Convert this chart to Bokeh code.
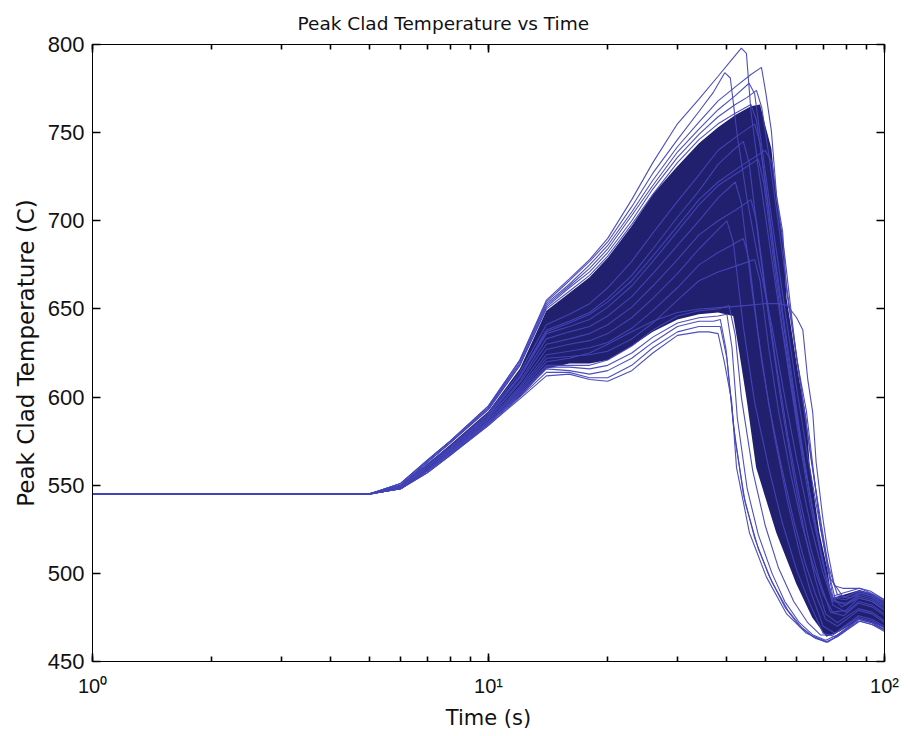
from bokeh.plotting import figure
from bokeh.models import Range1d, FixedTicker, LogTicker, LogAxis, LinearAxis
from bokeh.embed import file_html
from bokeh.resources import INLINE

# ---------------- data ----------------
# common flat start of every run
base_t = [1, 2, 3, 4]
base_T = [545, 545, 545, 545]

# heat-up phase: shared time grid, temperatures per run
rise_t = [5, 6, 7, 8, 10, 12, 14, 16, 18, 20, 23, 26, 30, 34]
rise_T = [
    [545, 551, 564, 575, 595, 621, 655, 667, 678, 690, 712, 733, 755, 769],  # A
    [545, 551, 564, 575, 595, 621, 654, 666, 677, 688, 708, 727, 746, 762],  # C
    [545, 551, 564, 575, 594, 620, 653, 664, 675, 686, 705, 723, 742, 756],  # B
    [545, 550, 563, 574, 594, 619, 652, 663, 673, 684, 703, 720, 739, 752],  # D
    [545, 550, 563, 574, 593, 618, 651, 662, 671, 682, 700, 718, 736, 749],  # E
    [545, 550, 563, 574, 593, 618, 650, 660, 669, 680, 698, 715, 733, 746],  # F
    [545, 549, 561, 571, 590, 612, 637, 642, 647, 654, 666, 680, 697, 712],  # U
    [545, 550, 562, 572, 591, 614, 641, 647, 653, 662, 677, 693, 711, 726],  # G
    [545, 549, 561, 571, 590, 612, 638, 643, 648, 656, 669, 684, 702, 717],  # H
    [545, 549, 561, 571, 589, 611, 636, 640, 644, 651, 663, 677, 694, 709],  # I
    [545, 549, 560, 570, 588, 609, 633, 637, 640, 646, 657, 670, 686, 700],  # J
    [545, 549, 560, 570, 588, 608, 630, 633, 636, 641, 651, 663, 678, 692],  # K
    [545, 549, 559, 569, 587, 606, 627, 630, 632, 636, 645, 656, 670, 684],  # L
    [545, 549, 559, 569, 586, 605, 624, 626, 628, 631, 639, 649, 662, 675],  # M
    [545, 548, 558, 568, 586, 604, 622, 623, 624, 626, 633, 642, 655, 666],  # N
    [545, 548, 558, 568, 585, 603, 620, 622, 625, 630, 637, 643, 648, 650],  # O
    [545, 548, 558, 568, 585, 602, 618, 618, 618, 621, 629, 638, 646, 649],  # T
    [545, 548, 558, 568, 585, 601, 617, 617, 616, 618, 625, 634, 642, 645],  # P
    [545, 548, 557, 567, 585, 601, 616, 615, 613, 615, 622, 631, 640, 643],  # Q
    [545, 548, 557, 567, 584, 600, 614, 614, 611, 611, 618, 628, 637, 640],  # S
    [545, 548, 557, 567, 584, 599, 612, 613, 610, 609, 615, 625, 635, 637],  # R
]

# peak, quench and late phase: own time points per run
fall_t = [
    [38, 41, 43.5, 44.8, 46, 48, 51, 55, 60, 65, 70, 74, 80, 86, 93, 100],
    [37, 39.5, 40.8, 42.5, 45, 48, 52, 56, 60, 65, 70, 74, 80, 86, 93, 100],
    [38, 42, 46, 48.9, 50.2, 51.8, 53.4, 55.3, 56.6, 60, 63.5, 66, 69, 72, 74, 79, 86.5, 92, 100],
    [38, 42, 45.5, 47, 49, 52, 56, 60, 64, 68, 72, 76, 82, 87, 93, 100],
    [38, 42, 45, 47.5, 49, 51, 54, 57, 61, 65, 69, 73, 79, 86, 93, 100],
    [38, 42, 46, 47.5, 50, 53, 57, 61, 65, 69, 73, 78, 86, 93, 100],
    [38, 44, 50, 52, 54, 56, 58, 60, 63, 66, 69, 72, 75, 80, 86.5, 93, 100],
    [38, 43, 47, 48.5, 51, 54, 58, 62, 66, 70, 74, 80, 86, 93, 100],
    [38, 41, 44, 45.5, 48, 51, 55, 59, 63, 67, 71, 76, 86, 93, 100],
    [38, 43, 48, 49.5, 52, 55, 59, 63, 67, 71, 74, 80, 86, 93, 100],
    [38, 42, 43.5, 46, 49, 53, 57, 61, 65, 70, 75, 86, 93, 100],
    [38, 42, 46, 47.5, 50, 53, 57, 61, 65, 69, 73, 79, 86, 93, 100],
    [38, 40, 41.5, 44, 47, 51, 55, 60, 65, 70, 75, 86, 93, 100],
    [38, 41, 44, 45.5, 48, 51, 55, 59, 63, 67, 71, 76, 86, 93, 100],
    [38, 43, 47, 48.5, 51, 54, 58, 62, 66, 70, 74, 80, 86, 93, 100],
    [40, 45, 50, 54, 56.8, 60, 62.2, 64, 65.9, 67.2, 69.8, 71.8, 74.7, 78.5, 86.5, 92, 100],
    [38, 40.5, 42, 43.5, 46.5, 50, 54, 59, 64, 69, 74, 86, 93, 100],
    [38, 40, 41.2, 42.5, 45, 48, 52, 56, 61, 66, 71, 76, 86, 93, 100],
    [37, 38.5, 39.8, 41.5, 44, 47, 51, 56, 61, 66, 71, 76, 86, 93, 100],
    [37, 38.5, 40, 42, 44.5, 48, 52, 57, 62, 67, 72, 78, 86, 93, 100],
    [36, 38, 39.4, 41.1, 42.3, 45.6, 50.3, 56.6, 63.5, 71.5, 77, 86.7, 93, 100],
]
fall_T = [
    [782, 791, 798, 795, 762, 730, 690, 640, 585, 538, 505, 486, 485, 489, 487, 482],
    [773, 784, 781, 748, 712, 678, 640, 600, 565, 528, 500, 484, 483, 487, 485, 480],
    [768, 776, 783, 787, 772, 751, 714, 694, 660, 622, 592, 560, 525, 503, 487, 489, 491.5, 490, 485],
    [763, 771, 778, 772, 742, 700, 650, 605, 566, 533, 505, 488, 486, 489, 487, 482],
    [759, 766, 770, 774, 764, 738, 698, 658, 612, 567, 530, 497, 486, 490, 488, 483],
    [755, 761, 766, 757, 722, 678, 628, 582, 543, 512, 488, 481, 486, 484, 479],
    [722, 732, 740, 733, 705, 680, 650, 622, 590, 558, 527, 502, 486, 487, 490, 488, 484],
    [740, 749, 755, 744, 705, 662, 612, 570, 535, 505, 482, 478, 484, 482, 477],
    [732, 739, 745, 733, 690, 645, 595, 555, 522, 496, 477, 472, 480, 478, 473],
    [720, 728, 735, 722, 685, 642, 598, 560, 528, 500, 485, 482, 488, 486, 481],
    [713, 722, 710, 665, 620, 575, 540, 512, 490, 470, 466, 476, 474, 470],
    [700, 706, 712, 700, 662, 622, 578, 543, 515, 494, 478, 476, 483, 481, 476],
    [695, 700, 688, 640, 597, 560, 530, 502, 482, 466, 464, 474, 472, 468],
    [682, 686, 690, 678, 635, 596, 560, 530, 506, 488, 474, 470, 479, 477, 472],
    [671, 675, 678, 666, 628, 592, 556, 527, 505, 488, 478, 479, 486, 484, 479],
    [651, 652, 653, 653, 652, 645, 638, 610, 591, 563, 532, 513, 493, 491.5, 491.5, 489, 485],
    [650, 652, 635, 600, 558, 527, 503, 484, 472, 465, 465, 475, 473, 469],
    [646, 647, 628, 588, 548, 522, 500, 484, 472, 465, 462, 465, 474, 472, 468],
    [643, 644, 627, 585, 545, 520, 499, 481, 470, 464, 461, 464, 473, 471, 467],
    [640, 640, 622, 575, 540, 514, 495, 479, 469, 463, 461, 466, 474, 472, 468],
    [637, 636, 620, 598, 560, 523, 498, 477, 466, 461, 465, 473, 471, 468],
]

# outline of the densely overlapping core of the run bundle
dense_upper_t = [1, 5, 6, 7, 8, 10, 12, 14, 16, 18, 20, 23, 26, 30, 34, 38, 42, 46, 48.5, 50,
                 51.8, 53.4, 55.3, 56.6, 59.9, 61, 63.5, 64.7, 68.5, 71.8, 73.5, 79.3, 86.5, 91.6, 100]
dense_upper_T = [545.6, 545.6, 550, 562, 573, 592, 616, 649, 659, 668, 679, 697, 715, 731, 744, 753, 760, 765, 766, 754,
                 741, 712, 692, 656, 620, 609, 588, 562, 523, 502, 486, 488, 490.5, 489, 484.5]
dense_lower_t = [1, 5, 6, 7, 8, 10, 12, 14, 16, 18, 20, 23, 26, 30, 34, 38, 41.5, 43, 44.9, 47.4,
                 53.3, 59.9, 65.7, 71.3, 77, 86.5, 93, 100]
dense_lower_T = [544.4, 544.4, 548, 558, 568, 585, 600, 616, 619, 619, 621, 629, 637, 644, 647, 648, 646, 625, 598, 560,
                 523, 494, 475, 464, 467, 474, 472, 469]

x_tick_labels = {1: "10\u2070", 10: "10\u00b9", 100: "10\u00b2"}
y_ticks = [450, 500, 550, 600, 650, 700, 750, 800]

# ---------------- figure ----------------
p = figure(width=908, height=736, x_axis_type="log",
           x_range=Range1d(1, 100), y_range=Range1d(450, 800),
           output_backend="svg", toolbar_location=None,
           min_border_left=92, min_border_right=24, min_border_top=44, min_border_bottom=75,
           background_fill_color="white", border_fill_color="white")

p.title.text = "Peak Clad Temperature vs Time"
p.title.text_font = "DejaVu Sans"
p.title.text_font_size = "18.5px"
p.title.text_font_style = "normal"
p.title.text_color = "#111111"
p.title.align = "left"
p.title.offset = 205
p.title.standoff = 21

p.grid.visible = False
p.outline_line_color = "black"
p.outline_line_width = 1

dense_x = dense_upper_t + dense_lower_t[::-1]
dense_y = dense_upper_T + dense_lower_T[::-1]
p.patch(dense_x, dense_y, fill_color="#20206e", line_color=None)

xs = [base_t + rise_t + ft for ft in fall_t]
ys = [base_T + rT + fT for rT, fT in zip(rise_T, fall_T)]
p.multi_line(xs, ys, line_color="#4444b8", line_width=1.1, line_alpha=0.95)


def style_axis(ax):
    ax.axis_line_color = "black"
    ax.major_tick_line_color = "black"
    ax.minor_tick_line_color = "black"
    ax.major_tick_line_width = 1.6
    ax.minor_tick_line_width = 1.6
    ax.major_tick_in = 8
    ax.major_tick_out = 0
    ax.minor_tick_in = 5
    ax.minor_tick_out = 0


xa = p.xaxis[0]
xa.ticker = LogTicker(mantissas=[1], num_minor_ticks=10, desired_num_ticks=3)
xa.major_label_overrides = x_tick_labels
style_axis(xa)
xa.major_label_text_font = "Liberation Sans"
xa.major_label_text_font_size = "20px"
xa.major_label_text_color = "#111111"
xa.major_label_standoff = 13
xa.axis_label = "Time (s)"
xa.axis_label_text_font = "DejaVu Sans"
xa.axis_label_text_font_size = "21px"
xa.axis_label_text_font_style = "normal"
xa.axis_label_text_color = "#111111"
xa.axis_label_standoff = 6

ya = p.yaxis[0]
ya.ticker = FixedTicker(ticks=y_ticks)
style_axis(ya)
ya.minor_tick_line_color = None
ya.major_label_text_font = "Liberation Sans"
ya.major_label_text_font_size = "22px"
ya.major_label_text_color = "#111111"
ya.major_label_standoff = 8
ya.axis_label = "Peak Clad Temperature (C)"
ya.axis_label_text_font = "DejaVu Sans"
ya.axis_label_text_font_size = "23px"
ya.axis_label_text_font_style = "normal"
ya.axis_label_text_color = "#111111"
ya.axis_label_standoff = 6

top = LogAxis(ticker=LogTicker(mantissas=[1], num_minor_ticks=10, desired_num_ticks=3),
              major_label_text_font_size="0px", major_label_text_alpha=0)
style_axis(top)
p.add_layout(top, "above")

right = LinearAxis(ticker=FixedTicker(ticks=y_ticks),
                   major_label_text_font_size="0px", major_label_text_alpha=0)
style_axis(right)
right.minor_tick_line_color = None
p.add_layout(right, "right")

open("out.html", "w").write(file_html(p, INLINE))
